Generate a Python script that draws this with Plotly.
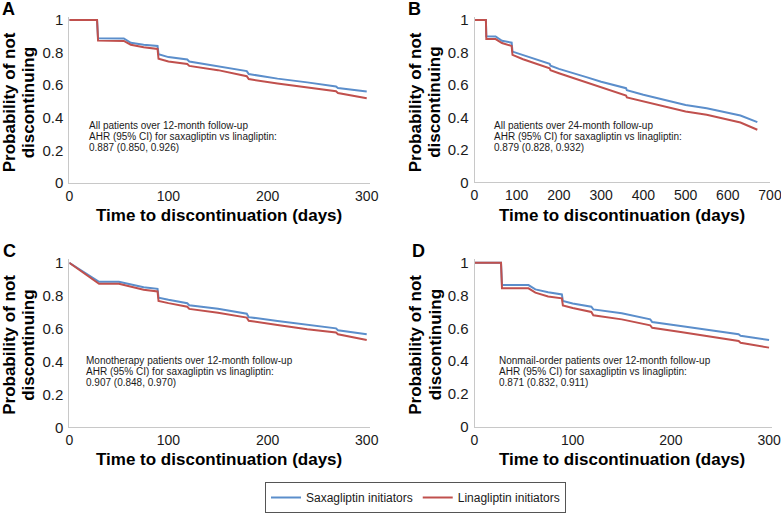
import plotly.graph_objects as go

# ---------------- data ----------------
series_names = ["Saxagliptin initiators", "Linagliptin initiators"]

a_days = [0, 28, 29, 55, 62, 75, 89, 90, 100, 119, 121, 150, 179, 181, 210, 240, 269, 271, 300]
a_saxa = [1, 1, 0.888, 0.886, 0.860, 0.848, 0.840, 0.790, 0.772, 0.757, 0.745, 0.717, 0.686, 0.668, 0.640, 0.617, 0.592, 0.582, 0.561]
a_lina = [1, 1, 0.873, 0.871, 0.848, 0.832, 0.822, 0.762, 0.745, 0.730, 0.718, 0.692, 0.655, 0.637, 0.610, 0.586, 0.563, 0.552, 0.520]

b_days = [0, 27, 28, 50, 65, 88, 90, 115, 178, 180, 200, 265, 300, 359, 361, 400, 450, 500, 550, 600, 630, 670]
b_saxa = [1, 1, 0.900, 0.898, 0.872, 0.860, 0.805, 0.785, 0.730, 0.718, 0.699, 0.648, 0.620, 0.580, 0.567, 0.539, 0.508, 0.477, 0.457, 0.430, 0.412, 0.371]
b_lina = [1, 1, 0.883, 0.882, 0.858, 0.840, 0.785, 0.758, 0.703, 0.690, 0.672, 0.617, 0.586, 0.535, 0.523, 0.498, 0.467, 0.436, 0.416, 0.389, 0.369, 0.324]

c_days = [0, 30, 50, 60, 75, 89, 90, 100, 119, 121, 150, 179, 181, 210, 240, 269, 271, 300]
c_saxa = [1, 0.885, 0.885, 0.870, 0.852, 0.842, 0.788, 0.775, 0.754, 0.742, 0.721, 0.691, 0.670, 0.646, 0.622, 0.602, 0.590, 0.566]
c_lina = [1, 0.873, 0.873, 0.858, 0.836, 0.826, 0.768, 0.755, 0.733, 0.720, 0.697, 0.667, 0.648, 0.622, 0.596, 0.577, 0.566, 0.531]

d_days = [0, 27, 28, 55, 62, 75, 89, 90, 100, 119, 121, 150, 179, 181, 210, 240, 269, 271, 300]
d_saxa = [1, 1, 0.864, 0.864, 0.838, 0.820, 0.807, 0.767, 0.752, 0.732, 0.716, 0.692, 0.655, 0.639, 0.615, 0.588, 0.564, 0.555, 0.529]
d_lina = [1, 1, 0.844, 0.844, 0.818, 0.795, 0.783, 0.740, 0.725, 0.700, 0.680, 0.655, 0.619, 0.604, 0.578, 0.550, 0.523, 0.512, 0.483]

panel_letters = ["A", "B", "C", "D"]
panel_notes = [
    ["All patients over 12-month follow-up", "AHR (95% CI) for saxagliptin vs linagliptin:", "0.887 (0.850, 0.926)"],
    ["All patients over 24-month follow-up", "AHR (95% CI) for saxagliptin vs linagliptin:", "0.879 (0.828, 0.932)"],
    ["Monotherapy patients over 12-month follow-up", "AHR (95% CI) for saxagliptin vs linagliptin:", "0.907 (0.848, 0.970)"],
    ["Nonmail-order patients over 12-month follow-up", "AHR (95% CI) for saxagliptin vs linagliptin:", "0.871 (0.832, 0.911)"],
]
x_title = "Time to discontinuation (days)"
y_title_lines = ["Probability of not", "discontinuing"]
y_ticks = [0, 0.2, 0.4, 0.6, 0.8, 1]

# ---------------- style / layout ----------------
W, H = 781, 513
BLUE = "#5B8ECB"
RED = "#C0504D"
FONT = "Liberation Sans, Arial, sans-serif"
TXT = "#1a1a1a"
AXC = "#C8C8C8"

def px(x):
    return x / W

def py(y):
    return 1 - y / H

panels = [
    dict(days=a_days, s=a_saxa, l=a_lina, xr=[0, 303], dtick=100, xd=[px(69.3), px(369.7)], yd=[py(183.3), py(16.7)]),
    dict(days=b_days, s=b_saxa, l=b_lina, xr=[0, 700], dtick=100, xd=[px(474.5), px(770)], yd=[py(182.8), py(16.7)]),
    dict(days=c_days, s=c_saxa, l=c_lina, xr=[0, 303], dtick=100, xd=[px(69.3), px(369.7)], yd=[py(428.3), py(260.0)]),
    dict(days=d_days, s=d_saxa, l=d_lina, xr=[0, 303], dtick=100, xd=[px(474.5), px(772)], yd=[py(427.7), py(260.0)]),
]

fig = go.Figure()
layout = dict(
    template="none",
    width=W, height=H, autosize=False,
    margin=dict(l=0, r=0, t=0, b=0, pad=0),
    paper_bgcolor="white", plot_bgcolor="white",
    font=dict(family=FONT, color=TXT),
    showlegend=True,
    legend=dict(orientation="h", x=px(415.5), xanchor="center", y=py(498), yanchor="middle",
                bordercolor="#555555", borderwidth=1, font=dict(size=12, family=FONT, color=TXT),
                bgcolor="white", itemwidth=30, tracegroupgap=0),
)

annotations = []
for i, p in enumerate(panels):
    k = "" if i == 0 else str(i + 1)
    xa, ya = "x" + k, "y" + k
    fig.add_trace(go.Scatter(x=p["days"], y=p["s"], mode="lines", name=series_names[0],
                             line=dict(color=BLUE, width=2), xaxis=xa, yaxis=ya,
                             showlegend=(i == 0), legendrank=1))
    fig.add_trace(go.Scatter(x=p["days"], y=p["l"], mode="lines", name=series_names[1],
                             line=dict(color=RED, width=2), xaxis=xa, yaxis=ya,
                             showlegend=(i == 0), legendrank=2))
    layout["xaxis" + k] = dict(domain=p["xd"], range=p["xr"], dtick=p["dtick"], tick0=0,
                               showgrid=False, zeroline=False, showline=True, linecolor=AXC,
                               linewidth=1, ticks="", anchor=ya, ticklabelstandoff=0,
                               automargin=False, ticklabeloverflow="allow",
                               tickfont=dict(size=14, family=FONT, color=TXT), fixedrange=True)
    layout["yaxis" + k] = dict(domain=p["yd"], range=[0, 1.02], tickvals=y_ticks,
                               showgrid=False, zeroline=False, showline=True, linecolor=AXC,
                               linewidth=1, ticks="", anchor=xa, ticklabelstandoff=2,
                               automargin=False, ticklabeloverflow="allow",
                               tickfont=dict(size=15, family=FONT, color=TXT), fixedrange=True)

# titles, letters, notes (pixel positions)
letter_pos = [(8, 9), (414.5, 9), (9, 251.5), (418.5, 251)]
xtitle_pos = [(219, 216), (622, 216), (219, 460), (622, 460)]
ytitle_pos = [((9.5, 28.5), 103), ((415.5, 435), 103), ((9.5, 28.5), 346), ((415.5, 435), 346)]
note_pos = [(87, 125.5), (492, 125.5), (83.5, 361.5), (497, 361.5)]

for i in range(4):
    lx, ly = letter_pos[i]
    annotations.append(dict(text="<b>%s</b>" % panel_letters[i], x=px(lx), y=py(ly), xref="paper", yref="paper",
                            showarrow=False, xanchor="center", yanchor="middle",
                            font=dict(size=18, family=FONT, color="black")))
    tx, ty = xtitle_pos[i]
    annotations.append(dict(text="<b>%s</b>" % x_title, x=px(tx), y=py(ty), xref="paper", yref="paper",
                            showarrow=False, xanchor="center", yanchor="middle",
                            font=dict(size=17, family=FONT, color="black")))
    (yx1, yx2), yc = ytitle_pos[i]
    for line, yx in zip(y_title_lines, (yx1, yx2)):
        annotations.append(dict(text="<b>%s</b>" % line, x=px(yx), y=py(yc), xref="paper", yref="paper",
                                showarrow=False, xanchor="center", yanchor="middle", textangle=-90,
                                font=dict(size=17, family=FONT, color="black")))
    nx, ny = note_pos[i]
    for j, line in enumerate(panel_notes[i]):
        annotations.append(dict(text=line, x=px(nx), y=py(ny + 11 * j), xref="paper", yref="paper",
                                showarrow=False, xanchor="left", yanchor="middle",
                                font=dict(size=10, family=FONT, color=TXT)))

layout["annotations"] = annotations
fig.update_layout(**layout)
fig.write_html("out.html", config={"displayModeBar": False, "staticPlot": True},
               post_script="document.body.style.margin='0';document.body.style.overflow='hidden';")
